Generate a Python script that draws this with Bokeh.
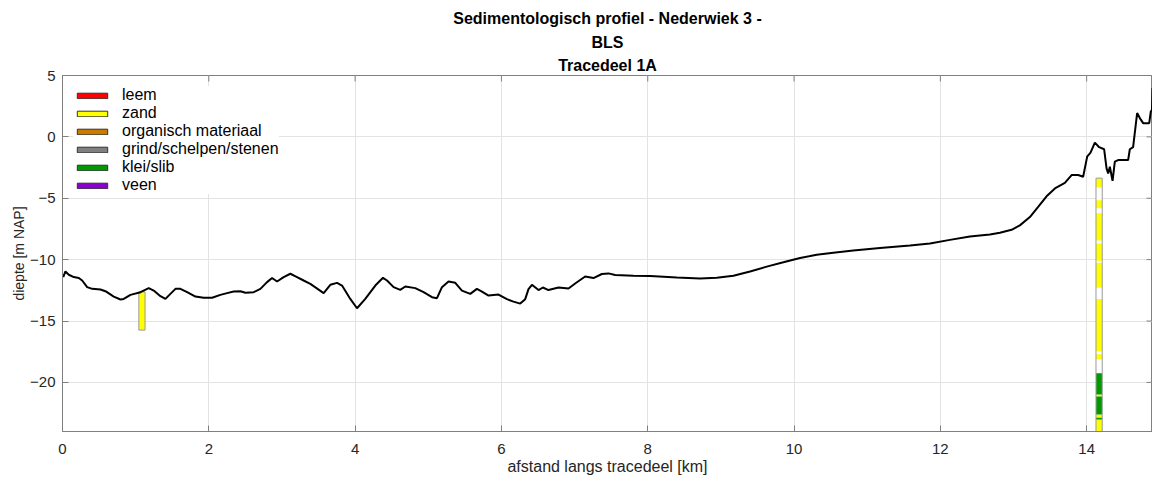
import math
from bokeh.plotting import figure
from bokeh.models import (ColumnDataSource, Range1d, FixedTicker, Legend, LegendItem, Title)
from bokeh.embed import file_html
from bokeh.resources import INLINE

# ---- profile (bed level along the trace) ----
dist_km = [0.01, 0.04, 0.086, 0.154, 0.223, 0.269, 0.337, 0.406, 0.519, 0.587,
           0.701, 0.792, 0.837, 0.929, 1.066, 1.179, 1.247, 1.339, 1.407, 1.475,
           1.544, 1.612, 1.704, 1.817, 1.930, 2.045, 2.158, 2.250, 2.340, 2.432,
           2.500, 2.613, 2.705, 2.796, 2.865, 2.933, 3.023, 3.115, 3.206, 3.296,
           3.388, 3.570, 3.661, 3.753, 3.821, 3.934, 4.026, 4.139, 4.276, 4.381,
           4.436, 4.526, 4.617, 4.686, 4.822, 4.936, 5.051, 5.119, 5.187, 5.277,
           5.369, 5.460, 5.574, 5.665, 5.734, 5.824, 5.960, 6.075, 6.165, 6.257,
           6.325, 6.370, 6.417, 6.507, 6.567, 6.643, 6.780, 6.917, 7.008, 7.145,
           7.258, 7.373, 7.463, 7.555, 7.805, 8.033, 8.398, 8.716, 8.944, 9.171,
           9.399, 9.627, 9.854, 10.082, 10.310, 10.537, 10.810, 11.175, 11.585, 11.858,
           12.131, 12.404, 12.678, 12.814, 12.974, 13.087, 13.224, 13.337, 13.452, 13.566,
           13.702, 13.794, 13.884, 13.952, 14.007, 14.053, 14.112, 14.171, 14.239, 14.272,
           14.294, 14.317, 14.354, 14.385, 14.430, 14.567, 14.590, 14.635, 14.690, 14.727,
           14.772, 14.855, 14.877, 14.893, 14.90]
depth_m = [-11.42, -10.96, -11.23, -11.42, -11.50, -11.70, -12.24, -12.38, -12.43, -12.57,
           -13.01, -13.25, -13.20, -12.87, -12.65, -12.32, -12.52, -12.98, -13.20, -12.79,
           -12.38, -12.38, -12.65, -13.01, -13.11, -13.11, -12.87, -12.73, -12.60, -12.57,
           -12.70, -12.65, -12.38, -11.83, -11.50, -11.78, -11.42, -11.15, -11.42, -11.70,
           -11.97, -12.73, -12.05, -11.89, -12.11, -13.20, -13.96, -13.20, -12.11, -11.48,
           -11.70, -12.24, -12.46, -12.19, -12.32, -12.65, -13.06, -13.14, -12.24, -11.78,
           -11.89, -12.52, -12.79, -12.38, -12.60, -12.93, -12.84, -13.22, -13.42, -13.58,
           -13.22, -12.40, -12.05, -12.48, -12.27, -12.48, -12.27, -12.35, -11.94, -11.37,
           -11.50, -11.17, -11.12, -11.25, -11.31, -11.34, -11.45, -11.53, -11.48, -11.31,
           -10.96, -10.57, -10.22, -9.86, -9.61, -9.43, -9.26, -9.06, -8.85, -8.69,
           -8.39, -8.11, -7.95, -7.81, -7.57, -7.21, -6.53, -5.71, -4.84, -4.20,
           -3.75, -3.11, -3.11, -3.25, -1.61, -1.29, -0.47, -0.84, -1.01, -2.57,
           -2.98, -2.43, -3.58, -2.02, -1.89, -1.89, -1.01, -0.84, 1.94, 1.53,
           1.12, 1.12, 2.07, 2.21, 3.99]

# ---- lithology classes ----
lith_names = ["leem", "zand", "organisch materiaal", "grind/schelpen/stenen",
              "klei/slib", "veen"]
lith_colors = ["#ff0000", "#ffff00", "#cc7a00", "#808080", "#009900", "#8a00cc"]

# ---- boreholes ----
bore_x = [1.086, 14.17]
bore_top = [-12.62, -3.36]
bore_bottom = [-15.74, -25.0]
bore_width = 0.085

seg_bore = [0, 1, 1, 1, 1, 1, 1, 1, 1, 1, 1, 1, 1, 1]
seg_top = [-12.62, -3.36, -5.16, -6.23, -8.69, -10.25, -13.20, -17.70,
           -19.26, -20.98, -21.15, -22.62, -22.87, -23.03]
seg_bottom = [-15.74, -4.10, -5.82, -8.44, -10.10, -12.30, -17.46, -18.11,
              -20.98, -21.15, -22.62, -22.87, -23.03, -25.0]
seg_lith = ["zand", "zand", "zand", "zand", "zand", "zand", "zand", "zand",
            "klei/slib", "zand", "klei/slib", "zand", "klei/slib", "zand"]

x_min, x_max = 0, 14.90
y_min, y_max = -24, 5
x_ticks = [0, 2, 4, 6, 8, 10, 12, 14]
y_ticks = [-20, -15, -10, -5, 0, 5]

FONT = "Liberation Sans"
AX_COL = "#808080"
TXT_COL = "#262626"

p = figure(width=1152, height=477, x_range=Range1d(x_min, x_max),
           y_range=Range1d(y_min, y_max),
           output_backend="svg", toolbar_location=None,
           min_border_left=62, min_border_right=0, min_border_bottom=46,
           min_border_top=75)

# grid
p.xgrid.ticker = FixedTicker(ticks=x_ticks)
p.ygrid.ticker = FixedTicker(ticks=y_ticks)
for g in (p.xgrid, p.ygrid):
    g.grid_line_color = "#e3e3e3"
    g.grid_line_width = 1
p.outline_line_color = AX_COL
p.outline_line_width = 1


def style_axis(ax, ticks):
    ax.ticker = FixedTicker(ticks=ticks)
    ax.major_tick_in = 6
    ax.major_tick_out = 0
    ax.minor_tick_line_color = None
    ax.axis_line_color = AX_COL
    ax.major_tick_line_color = AX_COL
    ax.major_label_text_font = FONT
    ax.major_label_text_font_size = "15px"
    ax.major_label_text_color = TXT_COL
    ax.axis_label_text_font = FONT
    ax.axis_label_text_font_style = "normal"
    ax.axis_label_text_color = TXT_COL


style_axis(p.xaxis[0], x_ticks)
style_axis(p.yaxis[0], y_ticks)
p.xaxis[0].axis_label = "afstand langs tracedeel [km]"
p.xaxis[0].axis_label_text_font_size = "16px"
p.xaxis[0].major_label_standoff = 12
p.xaxis[0].axis_label_standoff = 1
p.yaxis[0].axis_label = "diepte [m NAP]"
p.yaxis[0].axis_label_text_font_size = "14px"
p.yaxis[0].major_label_standoff = 7
p.yaxis[0].axis_label_standoff = 0

# titles (added from the frame outward)
for t, so in [("Tracedeel 1A", 3), ("BLS", 5), ("Sedimentologisch profiel - Nederwiek 3 -", 5)]:
    p.add_layout(Title(text=t, align="center", text_font=FONT, text_font_size="16px",
                       text_font_style="bold", text_color="#000000", standoff=so), "above")

# boreholes: white background column
bg = ColumnDataSource(dict(
    left=[x - bore_width / 2 for x in bore_x],
    right=[x + bore_width / 2 for x in bore_x],
    top=bore_top, bottom=bore_bottom))
p.quad(left="left", right="right", top="top", bottom="bottom", source=bg,
       fill_color="white", line_color=None)

for name, col in zip(lith_names, lith_colors):
    idx = [i for i, l in enumerate(seg_lith) if l == name]
    src = ColumnDataSource(dict(
        left=[bore_x[seg_bore[i]] - bore_width / 2 for i in idx],
        right=[bore_x[seg_bore[i]] + bore_width / 2 for i in idx],
        top=[seg_top[i] for i in idx],
        bottom=[seg_bottom[i] for i in idx]))
    p.quad(left="left", right="right", top="top", bottom="bottom", source=src,
           fill_color=col, line_color=None)

p.quad(left="left", right="right", top="top", bottom="bottom", source=bg,
       fill_color=None, line_color="#9a9a9a", line_width=1)

# profile line
p.line(dist_km, depth_m, line_color="black", line_width=2)

# inward box ticks on top and right edges
p.scatter(x_ticks, [y_max] * len(x_ticks), marker="dash", angle=math.pi / 2,
          size=12, line_color=AX_COL, line_width=1)
p.scatter([x_max] * len(y_ticks), y_ticks, marker="dash",
          size=12, line_color=AX_COL, line_width=1)

# legend (proxy renderers without visible data carry the legend styling)
nan = float("nan")
items = []
for name, col in zip(lith_names, lith_colors):
    r = p.quad(left=[nan], right=[nan], top=[nan], bottom=[nan], fill_color=col,
               line_color="#333333", line_width=1)
    items.append(LegendItem(label=name, renderers=[r]))
leg = Legend(items=items, location="top_left", margin=11, padding=2,
             spacing=0, glyph_width=38, glyph_height=7, label_height=14,
             label_standoff=11, label_text_font=FONT, label_text_font_size="16px",
             label_text_color="#000000",
             background_fill_color="white", background_fill_alpha=1.0,
             border_line_color=None)
p.add_layout(leg, "center")

open("out.html", "w").write(file_html(p, INLINE))
